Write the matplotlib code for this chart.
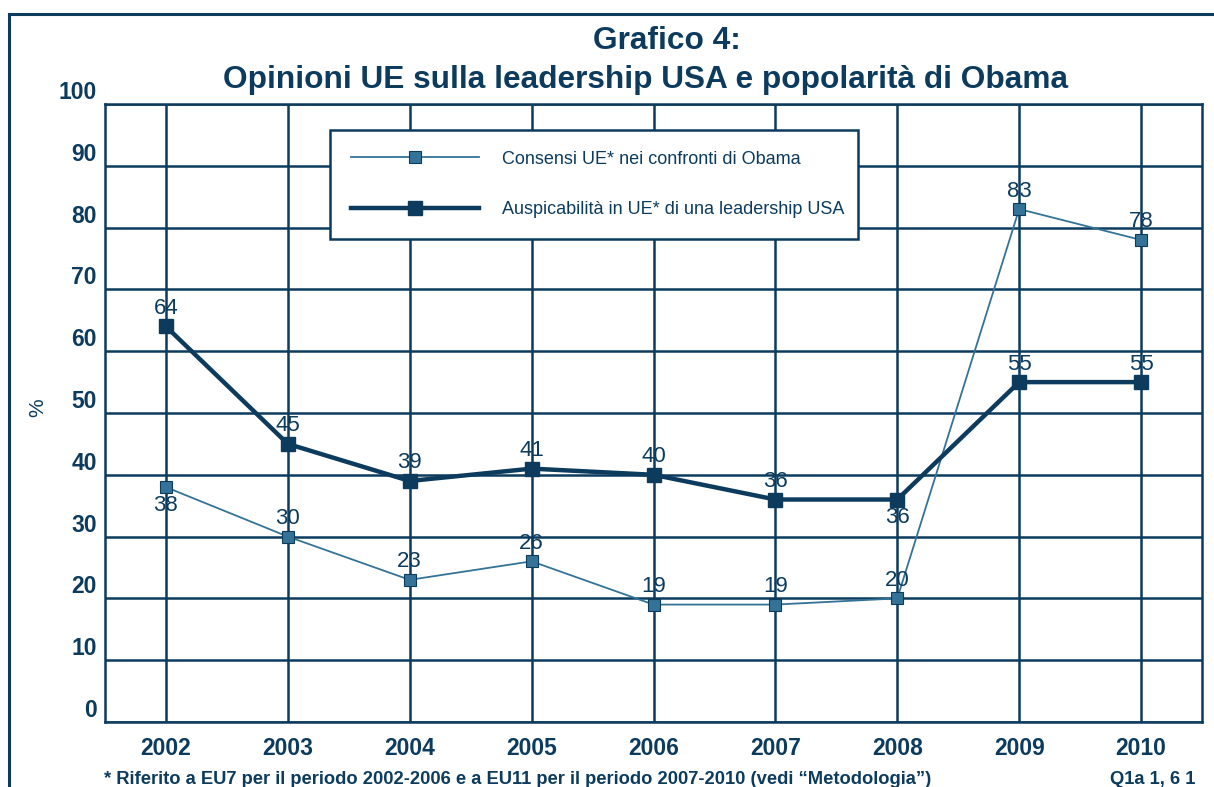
import matplotlib
matplotlib.use("Agg")
import matplotlib.pyplot as plt
from matplotlib.lines import Line2D

years = [2002, 2003, 2004, 2005, 2006, 2007, 2008, 2009, 2010]
obama = [38, 30, 23, 26, 19, 19, 20, 83, 78]
leadership = [64, 45, 39, 41, 40, 36, 36, 55, 55]
obama_label_pos = ["below", "above", "above", "above", "above", "above", "above", "above", "above"]
lead_label_pos = ["above", "above", "above", "above", "above", "above", "below", "above", "above"]
yticks = [0, 10, 20, 30, 40, 50, 60, 70, 80, 90, 100]

series_names = ["Consensi UE* nei confronti di Obama",
                "Auspicabilità in UE* di una leadership USA"]
title1 = "Grafico 4:"
title2 = "Opinioni UE sulla leadership USA e popolarità di Obama"
footnote = "* Riferito a EU7 per il periodo 2002-2006 e a EU11 per il periodo 2007-2010 (vedi \u201cMetodologia\u201d)"
source = "Q1a 1, 6 1"

NAVY = "#0c3b5e"
LIGHT = "#347397"
FONT = ["Liberation Sans", "DejaVu Sans"]

plt.rcParams["font.family"] = FONT

fig = plt.figure(figsize=(12.14, 7.87), dpi=100)
ax = fig.add_axes([105 / 1214, 1 - 722 / 787, 1097 / 1214, 618 / 787])

ax.plot(years, obama, color=LIGHT, lw=1.3, marker="s", ms=9,
        mfc=LIGHT, mec=NAVY, mew=0.8, label=series_names[0], zorder=4)
ax.plot(years, leadership, color=NAVY, lw=3.2, marker="s", ms=10,
        mfc=NAVY, mec=NAVY, label=series_names[1], zorder=5)

for x, v, p in zip(years, obama, obama_label_pos):
    off = 13 if p == "above" else -13
    ax.annotate(str(v), (x, v), xytext=(0, off), textcoords="offset points",
                ha="center", va="center", fontsize=16, color=NAVY, zorder=6)
for x, v, p in zip(years, leadership, lead_label_pos):
    off = 13 if p == "above" else -13
    ax.annotate(str(v), (x, v), xytext=(0, off), textcoords="offset points",
                ha="center", va="center", fontsize=16, color=NAVY, zorder=6)

ax.set_xlim(2001.5, 2010.5)
ax.set_ylim(0, 100)
ax.set_xticks(years)
ax.set_xticklabels([str(y) for y in years])
ax.set_yticks(yticks)
ax.set_yticklabels([str(t) for t in yticks])
ax.grid(True, color=NAVY, lw=1.8, zorder=1)
ax.set_axisbelow(True)
for s in ax.spines.values():
    s.set_color(NAVY)
    s.set_linewidth(1.8)
ax.tick_params(length=0, colors=NAVY, labelsize=16.5)
ax.tick_params(axis="x", pad=11)
ax.tick_params(axis="y", pad=6)
for lab in ax.get_xticklabels() + ax.get_yticklabels():
    lab.set_fontweight("bold")
for lab in ax.get_yticklabels():
    lab.set_va("bottom")

fig.text(38 / 1214, 1 - 408 / 787, "%", rotation=90, ha="center", va="center",
         fontsize=15, color=NAVY)

leg = ax.legend(loc="upper left", bbox_to_anchor=(225 / 1097, 0.958, 528 / 1097, 0.0),
                mode="expand", borderaxespad=0, handlelength=7.1, handletextpad=1.3,
                labelspacing=1.85, borderpad=1.15, fancybox=False,
                prop={"size": 13})
leg.get_frame().set_edgecolor(NAVY)
leg.get_frame().set_linewidth(1.8)
leg.get_frame().set_alpha(1)
leg.set_zorder(7)
for t in leg.get_texts():
    t.set_color(NAVY)

fig.text(667 / 1214, 1 - 41 / 787, title1, ha="center", va="center",
         fontsize=22.8, fontweight="bold", color=NAVY)
fig.text(646 / 1214, 1 - 80 / 787, title2, ha="center", va="center",
         fontsize=22.8, fontweight="bold", color=NAVY)
fig.text(104 / 1214, 1 - 779 / 787, footnote, ha="left", va="center",
         fontsize=13.2, fontweight="bold", color=NAVY)
fig.text(1110 / 1214, 1 - 779 / 787, source, ha="left", va="center",
         fontsize=13.2, fontweight="bold", color=NAVY)

fx = 9 / 1214
fy = 1 - 14 / 787
fig.add_artist(Line2D([fx, fx], [0, fy], transform=fig.transFigure, color=NAVY, lw=2.2))
fig.add_artist(Line2D([fx, 1.0], [fy, fy], transform=fig.transFigure, color=NAVY, lw=2.2))

fig.savefig("out.png", dpi=100)
